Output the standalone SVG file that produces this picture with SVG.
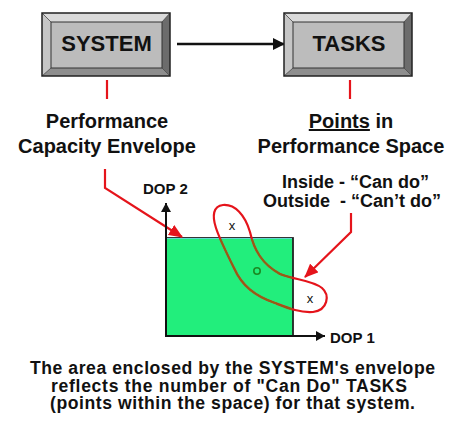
<svg xmlns="http://www.w3.org/2000/svg" xmlns:xlink="http://www.w3.org/1999/xlink" width="449" height="421" viewBox="0 0 449 421">
  <style>
    .lbl { font-family: "Liberation Sans", Arial, sans-serif; font-weight: bold; fill: #111; }
    .box-txt { font-size: 22px; text-anchor: middle; }
    .head { font-size: 20px; text-anchor: middle; }
    .note { font-size: 18px; }
    .axis-txt { font-size: 15px; }
    .mark { font-family: "Liberation Sans", Arial, sans-serif; font-size: 13px; text-anchor: middle; fill: #111; }
    .foot { font-size: 17.6px; }
    .red { stroke: #e5141b; stroke-width: 2.2; fill: none; }
    .axis { stroke: #111; stroke-width: 2; fill: none; }
  </style>
  <defs>
    <!-- bevelled grey button, 128 x 63 -->
    <g id="bevel-box">
      <polygon points="0,0 128,0 120,9 9,9" fill="#dadada"/>
      <polygon points="0,0 9,9 9,55 0,63" fill="#c6c6c6"/>
      <polygon points="128,0 128,63 120,55 120,9" fill="#6c6c6c"/>
      <polygon points="0,63 128,63 120,55 9,55" fill="#8e8e8e"/>
      <rect x="9" y="9" width="111" height="46" fill="#bcbcbc" stroke="#333" stroke-width="1"/>
      <path d="M0,0 L9,9 M128,0 L120,9 M0,63 L9,55 M128,63 L120,55" stroke="#444" stroke-width="0.8"/>
      <rect x="0" y="0" width="128" height="63" fill="none" stroke="#222" stroke-width="1.5"/>
    </g>
    <marker id="arrow-black" markerWidth="12" markerHeight="12" refX="11" refY="6" orient="auto" markerUnits="userSpaceOnUse">
      <path d="M0,0 L12,6 L0,12 Z" fill="#111"/>
    </marker>
    <marker id="arrow-axis" markerWidth="9" markerHeight="10" refX="9" refY="5" orient="auto" markerUnits="userSpaceOnUse">
      <path d="M0,0 L9,5 L0,10 Z" fill="#111"/>
    </marker>
    <marker id="arrow-red" markerWidth="14" markerHeight="12" refX="13" refY="6" orient="auto" markerUnits="userSpaceOnUse">
      <path d="M0,0 L14,6 L0,12 Z" fill="#e5141b"/>
    </marker>
    <clipPath id="envelope-clip">
      <rect x="167" y="239" width="125" height="96"/>
    </clipPath>
    <path id="task-loop" d="M223,205 C235,204 245,215 250,232 C254,250 262,264 280,274 C295,280 312,280 322,288 C330,295 328,310 313,312 C300,313 288,308 275,303 C255,296 242,286 234,268 C226,252 220,240 216,228 C212,216 213,206 223,205 Z"/>
  </defs>

  <rect width="449" height="421" fill="#fff"/>

  <!-- performance envelope (area under the axes) -->
  <g id="envelope">
    <rect x="166" y="238" width="127" height="98" fill="#22ee7c" stroke="#222" stroke-width="1.8"/>
    <line x1="167" y1="238.5" x2="292" y2="238.5" stroke="#5fd7d2" stroke-width="1.2"/>
  </g>

  <!-- task points and the loop that groups them -->
  <g id="task-points">
    <use xlink:href="#task-loop" class="red" stroke-width="1.5"/>
    <g clip-path="url(#envelope-clip)">
      <use xlink:href="#task-loop" fill="none" stroke="#8a6a14" stroke-width="1.5"/>
    </g>
    <text class="mark" x="232" y="230">x</text>
    <text class="mark" x="310" y="303">x</text>
    <circle cx="257" cy="271" r="3.2" fill="none" stroke="#1b8a22" stroke-width="1.6"/>
  </g>

  <g id="connectors">
    <line x1="177" y1="44" x2="284" y2="44" stroke="#111" stroke-width="2.5" marker-end="url(#arrow-black)"/>
    <line x1="107" y1="80" x2="107" y2="99" class="red"/>
    <line x1="350" y1="80" x2="350" y2="99" class="red"/>
    <polyline points="105,169 105,188 182,237" class="red" marker-end="url(#arrow-red)"/>
    <polyline points="351,213 351,232 305,277" class="red" marker-end="url(#arrow-red)"/>
  </g>

  <g id="axes">
    <line x1="166" y1="337" x2="166" y2="203" class="axis" marker-end="url(#arrow-axis)"/>
    <line x1="165" y1="336" x2="325" y2="336" class="axis" marker-end="url(#arrow-axis)"/>
    <text class="lbl axis-txt" x="143" y="194">DOP 2</text>
    <text class="lbl axis-txt" x="330" y="343">DOP 1</text>
  </g>

  <g id="system">
    <use xlink:href="#bevel-box" x="42" y="13"/>
    <text class="lbl box-txt" x="106.5" y="51">SYSTEM</text>
  </g>

  <g id="tasks">
    <use xlink:href="#bevel-box" x="284" y="13"/>
    <text class="lbl box-txt" x="349" y="51">TASKS</text>
  </g>

  <g id="envelope-label">
    <text class="lbl head" x="107" y="128">Performance</text>
    <text class="lbl head" x="107" y="153">Capacity Envelope</text>
  </g>

  <g id="points-label">
    <text class="lbl head" x="351" y="128"><tspan text-decoration="underline">Points</tspan> in</text>
    <text class="lbl head" x="351" y="153">Performance Space</text>
    <text class="lbl note" x="282" y="188">Inside - “Can do”</text>
    <text class="lbl note" x="263" y="207" xml:space="preserve">Outside  - “Can’t do”</text>
  </g>

  <g id="caption">
    <text class="lbl foot" x="30" y="374" textLength="405" lengthAdjust="spacing">The area enclosed by the SYSTEM's envelope</text>
    <text class="lbl foot" x="51" y="391.5" textLength="356" lengthAdjust="spacing">reflects the number of "Can Do" TASKS</text>
    <text class="lbl foot" x="50" y="409" textLength="365" lengthAdjust="spacing">(points within the space) for that system.</text>
  </g>
</svg>
